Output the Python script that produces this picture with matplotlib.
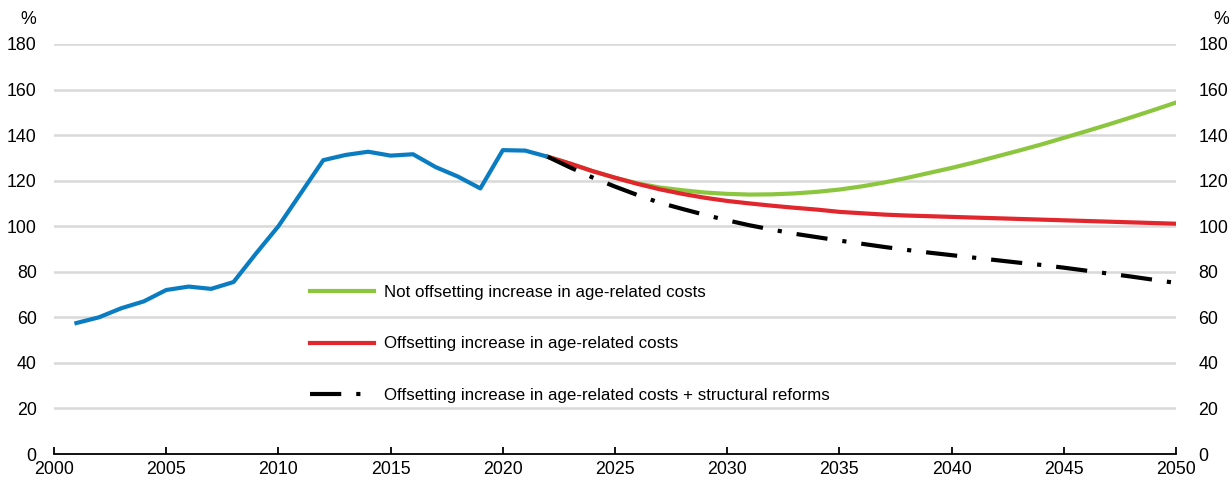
import matplotlib
matplotlib.use("Agg")
import matplotlib.pyplot as plt
from matplotlib.lines import Line2D

plt.rcParams['font.family'] = ['Liberation Sans', 'DejaVu Sans']

hist_years = list(range(2001, 2023))
hist_values = [57.5, 60, 64, 67, 72, 73.5, 72.5, 75.5, 88, 100, 114.5, 129,
               131.3, 132.7, 131, 131.6, 126, 121.8, 116.6, 133.4, 133.2, 130.5]

proj_years = list(range(2022, 2051))
not_offsetting = [130.5, 127.5, 124.2, 121.3, 118.8, 117.0, 115.8, 114.8, 114.2, 113.9,
                  114.0, 114.4, 115.1, 116.1, 117.5, 119.2, 121.2, 123.4, 125.6, 128.0,
                  130.6, 133.2, 135.9, 138.8, 141.7, 144.7, 147.8, 151.0, 154.3]
offsetting = [130.5, 127.5, 124.2, 121.3, 118.6, 116.2, 114.2, 112.5, 111.1, 110.0,
              109.0, 108.1, 107.3, 106.3, 105.7, 105.1, 104.7, 104.4, 104.1, 103.8,
              103.5, 103.2, 102.9, 102.6, 102.3, 102.0, 101.7, 101.4, 101.1]
offsetting_reforms = [130.5, 125.8, 121.4, 117.4, 113.7, 110.3, 107.6, 105.0, 102.6, 100.4,
                      98.5, 96.7, 95.2, 93.7, 92.3, 90.9, 89.6, 88.4, 87.3, 86.2,
                      85.1, 84.0, 83.0, 81.8, 80.5, 79.2, 77.9, 76.5, 75.1]

labels = ["Not offsetting increase in age-related costs",
          "Offsetting increase in age-related costs",
          "Offsetting increase in age-related costs + structural reforms"]

yticks = list(range(0, 181, 20))
xticks = list(range(2000, 2051, 5))

BLUE = '#0A7DC2'
GREEN = '#8CC63F'
RED = '#E1262D'
DASHDOT = (0, (7.5, 3.6, 1, 3.6))
FS = 12.8

fig = plt.figure(figsize=(12.3, 4.86), dpi=100)
ax = fig.add_axes([54/1230, 1-454/486, (1176-54)/1230, (454-44)/486])

for y in yticks[1:]:
    ax.axhline(y, color='#D9D9D9', lw=1.8, zorder=0)

ax.plot(hist_years, hist_values, color=BLUE, lw=3.0, zorder=3)
ax.plot(proj_years, not_offsetting, color=GREEN, lw=3.0, zorder=2)
ax.plot(proj_years, offsetting, color=RED, lw=3.0, zorder=2)
ax.plot(proj_years, offsetting_reforms, color='black', lw=3.0,
        linestyle=DASHDOT, dash_capstyle='butt', zorder=4)

ax.set_xlim(2000, 2050)
ax.set_ylim(0, 180)
ax.set_xticks(xticks)
ax.set_yticks(yticks)

for s in ['left', 'right', 'top']:
    ax.spines[s].set_visible(False)
ax.spines['bottom'].set_color('black')
ax.spines['bottom'].set_linewidth(1.3)

ax.tick_params(axis='x', direction='in', length=5, width=1.3, pad=5, labelsize=FS, colors='black')
ax.tick_params(axis='y', length=0, labelsize=FS, pad=12.5)

ax2 = ax.twinx()
ax2.set_ylim(0, 180)
ax2.set_yticks(yticks)
for s in ['left', 'right', 'top', 'bottom']:
    ax2.spines[s].set_visible(False)
ax2.tick_params(axis='y', length=0, labelsize=FS, pad=16)

fig.text(28/1230, 1-20/486, '%', ha='center', va='center', fontsize=FS)
fig.text(1221/1230, 1-20/486, '%', ha='center', va='center', fontsize=FS)

handles = [Line2D([], [], color=GREEN, lw=3.0),
           Line2D([], [], color=RED, lw=3.0),
           Line2D([], [], color='black', lw=3.0, linestyle=DASHDOT, dash_capstyle='butt')]
leg = ax.legend(handles, labels, loc='upper left',
                bbox_to_anchor=(310/1230, 1-285/486), bbox_transform=fig.transFigure,
                frameon=False, fontsize=12.2, handlelength=3.8, handletextpad=0.55,
                labelspacing=2.15, borderaxespad=0, borderpad=0)

fig.savefig('out.png', dpi=100)
